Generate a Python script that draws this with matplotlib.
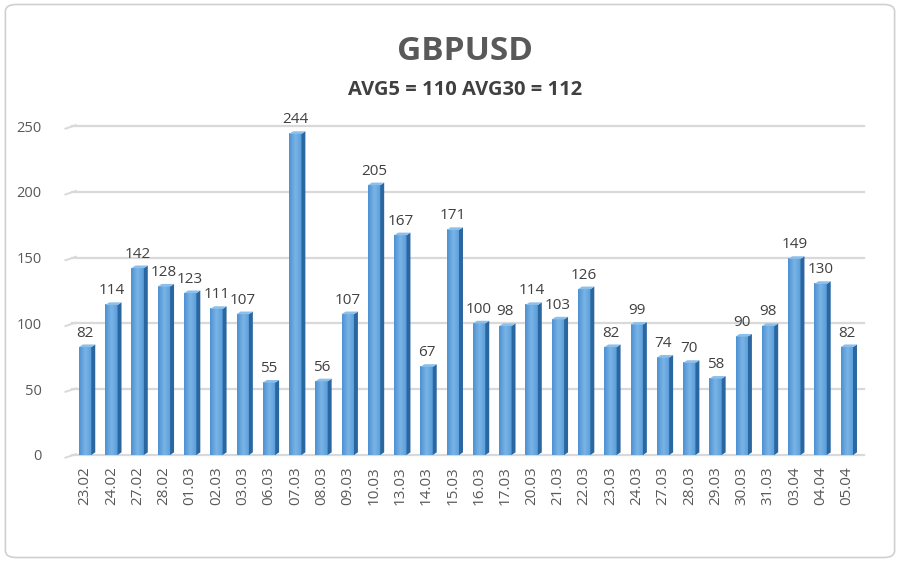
import matplotlib.pyplot as plt
from matplotlib.patches import FancyBboxPatch, Polygon
from matplotlib.colors import LinearSegmentedColormap
import numpy as np

plt.rcParams['font.family'] = ['Open Sans', 'DejaVu Sans']

dates = ['23.02', '24.02', '27.02', '28.02', '01.03', '02.03', '03.03', '06.03',
         '07.03', '08.03', '09.03', '10.03', '13.03', '14.03', '15.03', '16.03',
         '17.03', '20.03', '21.03', '22.03', '23.03', '24.03', '27.03', '28.03',
         '29.03', '30.03', '31.03', '03.04', '04.04', '05.04']
values = [82, 114, 142, 128, 123, 111, 107, 55, 244, 56, 107, 205, 167, 67, 171,
          100, 98, 114, 103, 126, 82, 99, 74, 70, 58, 90, 98, 149, 130, 82]
yticks = [0, 50, 100, 150, 200, 250]

fig = plt.figure(figsize=(9, 5.62), dpi=100)
fig.patches.append(FancyBboxPatch((0.006, 0.008), 0.988, 0.984,
                                  boxstyle='round,pad=0,rounding_size=0.012',
                                  transform=fig.transFigure, fc='white',
                                  ec='#d0d0d0', lw=1.2, zorder=-1))

ax = fig.add_axes([72 / 900, 107 / 562, 788 / 900, 329 / 562])
ax.set_facecolor('none')
x = np.arange(len(values))

# gridlines with small perspective tick on the left
for t in yticks:
    ax.plot([-0.5, 29.65], [t, t], color='#d9d9d9', lw=1.6, zorder=0,
            clip_on=False)
    ax.plot([-0.75, -0.35], [t - 2, t + 0.6], color='#d9d9d9', lw=1.4,
            zorder=0, clip_on=False)

cmap = LinearSegmentedColormap.from_list('b', ['#4f92d2', '#7ab4e6', '#5a9ddb'])
w = 0.47
side = 0.15
for xi, v in zip(x, values):
    x0 = xi - w / 2
    # front face with simple horizontal gradient
    grad = np.linspace(0, 1, 20).reshape(1, -1)
    ax.imshow(grad, extent=(x0, x0 + w, 0, v), aspect='auto', cmap=cmap,
              zorder=2)
    # right side face
    ax.add_patch(Polygon([(x0 + w, 0), (x0 + w + side, 2), (x0 + w + side, v + 2),
                          (x0 + w, v)], closed=True, fc='#2a66a0', ec='none',
                         zorder=2))
    # top face
    ax.add_patch(Polygon([(x0, v), (x0 + w, v), (x0 + w + side, v + 2),
                          (x0 + side, v + 2)], closed=True, fc='#8cc0ec',
                         ec='none', zorder=2))
    ax.text(xi, v + 5, str(v), ha='center', va='bottom', fontsize=11,
            color='#404040')

ax.set_xlim(-0.5, 29.5)
ax.set_ylim(0, 250)
ax.set_yticks(yticks)
ax.set_yticklabels([str(t) for t in yticks], fontsize=10.5, color='#595959')
ax.set_xticks(x)
ax.set_xticklabels(dates, rotation=90, fontsize=11, color='#595959')
ax.tick_params(length=0, pad=8)
ax.tick_params(axis='y', pad=22)
for s in ax.spines.values():
    s.set_visible(False)

fig.text(0.517, 0.908, 'GBPUSD', ha='center', va='center', fontsize=24,
         fontweight='bold', color='#595959')
fig.text(0.517, 0.84, 'AVG5 = 110 AVG30 = 112', ha='center', va='center',
         fontsize=14.5, fontweight='bold', color='#404040')

fig.savefig('out.png', dpi=100)
